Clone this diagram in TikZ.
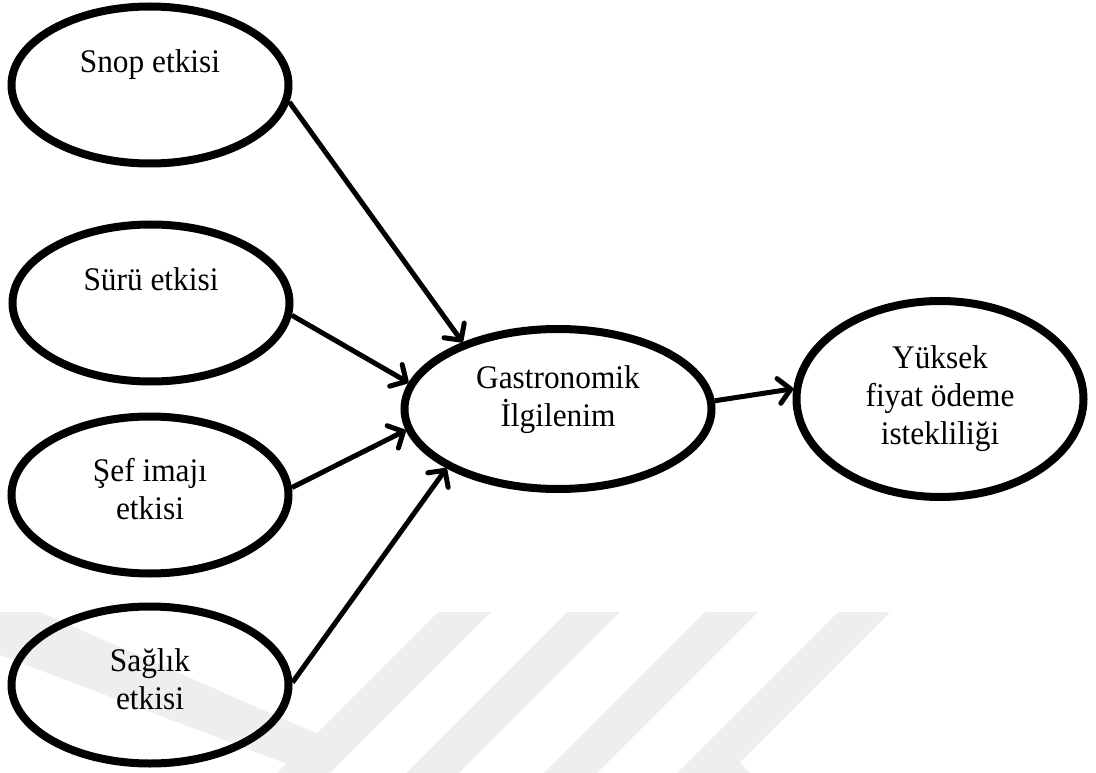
\documentclass[tikz,border=0pt]{standalone}
\usepackage{fontspec}
\setmainfont{Liberation Serif}[FakeStretch=0.95]
\usetikzlibrary{arrows.meta,shapes.geometric}
\definecolor{Mark}{HTML}{EEEEEE}

\begin{document}
\begin{tikzpicture}[
  x=1pt,y=-1pt,
  factor/.style={ellipse,draw,line width=8pt,minimum width=277pt,minimum height=157pt,align=center,font=\fontsize{33}{38}\selectfont},
  oneline/.style={text height=23pt,text depth=48pt},
  twoline/.style={text depth=12pt},
  arrow/.style={-{Straight Barb[length=12pt,width=25pt,round]},line width=5pt}
]
  \useasboundingbox (0,0) rectangle (1096,773);
  % faint stripes at the bottom
  \fill[Mark] (0,612) -- (40,612) -- (320,735) -- (290,765) -- (0,655) -- cycle;
  \fill[Mark] (438,612) -- (491,612) -- (330,773) -- (277,773) -- cycle;
  \fill[Mark] (567,612) -- (620,612) -- (459,773) -- (406,773) -- cycle;
  \fill[Mark] (705,612) -- (758,612) -- (597,773) -- (544,773) -- cycle;
  \fill[Mark] (838,612) -- (890,612) -- (740,762) -- (750,773) -- (677,773) -- cycle;

  \node[factor,oneline] (snop) at (150,85) {Snop etkisi};
  \node[factor,oneline] (suru) at (151,303) {Sürü etkisi};
  \node[factor,twoline] (sef) at (150,495) {Şef imajı\\etkisi};
  \node[factor,twoline] (saglik) at (150,685) {Sağlık\\etkisi};
  \node[factor,minimum width=307pt,minimum height=160pt,text depth=26pt] (gastro) at (558,409) {Gastronomik\\İlgilenim};
  \node[factor,minimum width=287pt,minimum height=196pt] (odeme) at (940,399) {Yüksek\\fiyat ödeme\\istekliliği};

  \draw[arrow] (snop.-7) -- (gastro.145);
  \draw[arrow] (suru.-5) -- (gastro.170);
  \draw[arrow] (sef.3) -- (gastro.188);
  \draw[arrow] (saglik.1) -- (gastro.208);
  \draw[arrow] (gastro.3) -- (odeme.176);
\end{tikzpicture}
\end{document}
